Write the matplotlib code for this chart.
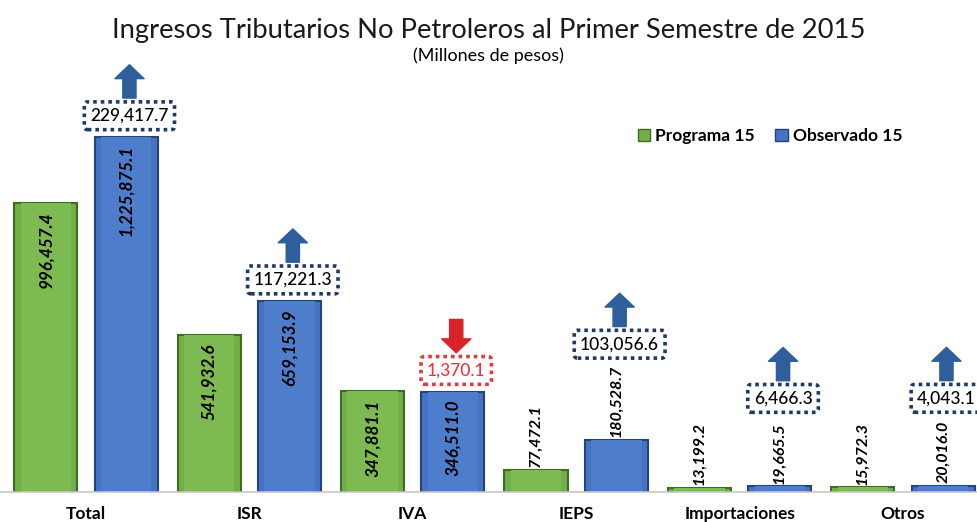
import numpy as np
import matplotlib.pyplot as plt
from matplotlib import transforms
from matplotlib.patches import Patch

plt.rcParams['font.family'] = ['Lato', 'DejaVu Sans']

# data
categorias = ['Total', 'ISR', 'IVA', 'IEPS', 'Importaciones', 'Otros']
programa = [996457.4, 541932.6, 347881.1, 77472.1, 13199.2, 15972.3]
observado = [1225875.1, 659153.9, 346511.0, 180528.7, 19665.5, 20016.0]
diferencia = ['229,417.7', '117,221.3', '1,370.1', '103,056.6', '6,466.3', '4,043.1']
sube = [True, True, False, True, True, True]

verde, verde_borde = '#72AF48', '#3E6A24'
azul, azul_borde = '#4673C3', '#22457E'
flecha_azul, flecha_roja = '#2F5E9C', '#D9232B'

fig = plt.figure(figsize=(9.77, 5.22), dpi=100)
ax = fig.add_axes([0, 30/522, 1, 412/522])
ax.set_xlim(-0.526, 5.453)
ax.set_ylim(0, 1422600)
for s in ['top', 'right', 'left']:
    ax.spines[s].set_visible(False)
ax.spines['bottom'].set_color('#C8C8C8')
ax.spines['bottom'].set_linewidth(1.2)
ax.set_yticks([])

x = np.arange(len(categorias))
w, off = 0.386, 0.246
ax.bar(x - off, programa, w, color=verde, edgecolor=verde_borde, linewidth=1.5, label='Programa 15')
ax.bar(x + off, observado, w, color=azul, edgecolor=azul_borde, linewidth=1.5, label='Observado 15')
# soft inner highlight for a bevel look
ax.bar(x - off, programa, w * 0.8, color='#7DBB52', linewidth=0)
ax.bar(x + off, observado, w * 0.8, color='#4E7DCC', linewidth=0)

ax.set_xticks(x)
ax.set_xticklabels(categorias, fontsize=12.5, fontweight='bold')
ax.tick_params(axis='x', length=0, pad=10)


def pt(dy):
    return transforms.offset_copy(ax.transData, fig=fig, x=0, y=dy, units='points')


def etiqueta(xp, v):
    txt = '{:,.1f}'.format(v)
    if v > 300000:
        ax.text(xp, v, txt, rotation=90, ha='center', va='top', fontsize=12.3,
                fontweight='bold', fontstyle='italic', transform=pt(-6))
    else:
        ax.text(xp, v, txt, rotation=90, ha='center', va='bottom', fontsize=11.5,
                fontweight='bold', fontstyle='italic', transform=pt(2))


flecha = 'simple,head_width=2.1,head_length=1.0,tail_width=0.95'
for i in range(len(categorias)):
    etiqueta(x[i] - off, programa[i])
    etiqueta(x[i] + off, observado[i])

    # bottom of the difference box, in points above the blue bar
    if observado[i] > 300000:
        b = 5
    else:
        b = 9 + 5.5 * len('{:,.1f}'.format(observado[i]))
    col = flecha_azul if sube[i] else flecha_roja
    borde = '#1F3864' if sube[i] else '#E8383D'
    xb = x[i] + off + 0.02
    ax.text(xb, observado[i], diferencia[i], ha='center', va='bottom', fontweight='medium',
            fontsize=12.5, color='black' if sube[i] else '#E8383D', transform=pt(b + 4.5),
            bbox=dict(boxstyle='round,pad=0.34,rounding_size=0.2', fc='white', ec=borde,
                      lw=2.6, ls=(0, (1, 1.1))))
    a0, a1 = b + 23, b + 47
    if sube[i]:
        p0, p1 = a0, a1
    else:
        p0, p1 = a1, a0
    ax.annotate('', xy=(xb, observado[i]), xycoords=pt(p1),
                xytext=(xb, observado[i]), textcoords=pt(p0),
                arrowprops=dict(arrowstyle=flecha, fc=col, ec=col, shrinkA=0, shrinkB=0))

fig.text(0.5, 0.942, 'Ingresos Tributarios No Petroleros al Primer Semestre de 2015',
         ha='center', va='center', fontsize=19.7, color='#1A1A1A')
fig.text(0.5, 0.893, '(Millones de pesos)', ha='center', va='center', fontsize=13)

hs = [Patch(fc=verde, ec=verde_borde), Patch(fc=azul, ec=azul_borde)]
ax.legend(hs, ['Programa 15', 'Observado 15'], loc='center', bbox_to_anchor=(770/977, (492-136)/412),
          ncol=2, frameon=False, prop={'weight': 'bold', 'size': 12.5}, handlelength=0.7,
          handleheight=0.7, handletextpad=0.3, columnspacing=1.2)

fig.savefig('out.png', dpi=100)
